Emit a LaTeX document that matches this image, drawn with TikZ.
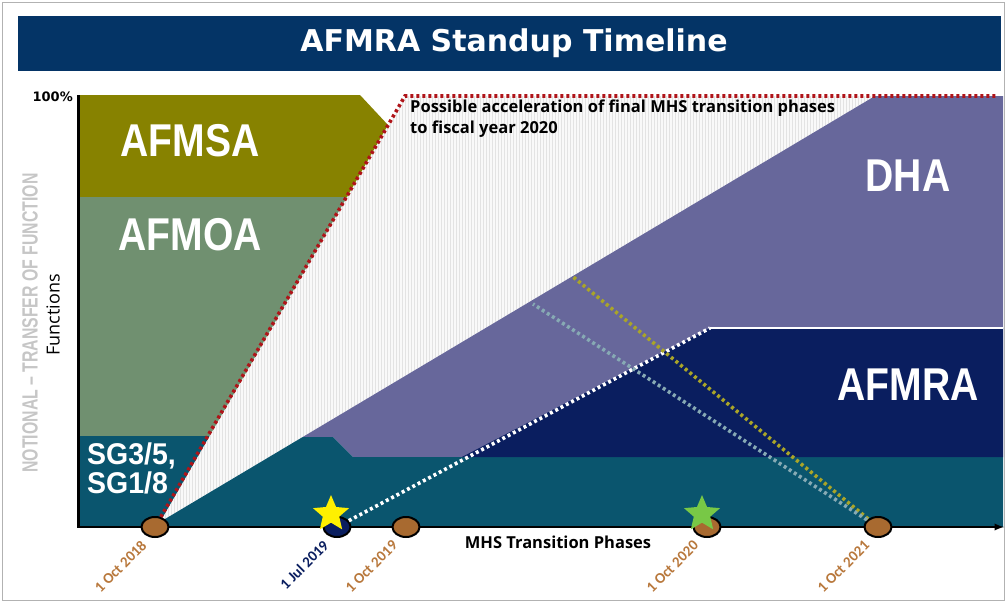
\documentclass[tikz,border=0pt]{standalone}
\usepackage{fontspec}
\setmainfont{Open Sans}
\newfontfamily\titlefont{DejaVu Sans}
\newfontfamily\namefont{Liberation Sans}
\newfontfamily\datefont{Carlito}
\usepackage{graphicx}
\usetikzlibrary{shapes,arrows,patterns}

\definecolor{titleblue}{RGB}{4,52,102}
\definecolor{afmsacol}{RGB}{135,130,0}
\definecolor{afmoacol}{RGB}{112,144,112}
\definecolor{sgcol}{RGB}{10,85,110}
\definecolor{dhacol}{RGB}{103,103,155}
\definecolor{afmracol}{RGB}{10,30,95}
\definecolor{msbrown}{RGB}{168,106,48}
\definecolor{datebrown}{RGB}{184,120,60}
\definecolor{staryellow}{RGB}{255,240,0}
\definecolor{stargreen}{RGB}{120,200,70}
\definecolor{accelred}{RGB}{175,20,25}
\definecolor{oliveline}{RGB}{170,165,40}
\definecolor{grayline}{RGB}{135,170,180}

\begin{document}
\begin{tikzpicture}[x=1pt,y=-1pt,
  bigname/.style={text=white, inner sep=0pt, font=\namefont\bfseries\fontsize{46}{46}\selectfont},
  milestone/.style={ellipse, draw=black, line width=2pt, fill=msbrown, minimum width=27pt, minimum height=20pt, inner sep=0pt},
  datelabel/.style={rotate=45, anchor=east, inner sep=0pt, text=datebrown, font=\datefont\bfseries\fontsize{15}{15}\selectfont},
  marker/.style={star, star points=5, star point ratio=2.2, minimum size=38pt, inner sep=0pt},
  phase/.style={line width=3.6pt, dash pattern=on 3pt off 3pt}]
  \useasboundingbox (0,0) rectangle (1006,602);

  % frame and title
  \draw[gray!60, line width=0.8pt] (2,2) rectangle (1004,600);
  \fill[titleblue] (18,16) rectangle (1001,71);
  \node[text=white, font=\titlefont\bfseries\fontsize{30}{30}\selectfont] (title) at (514,43) {AFMRA Standup Timeline};

  % acceleration area
  \fill[gray!5] (160,522) -- (405,96) -- (875,96) -- cycle;
  \fill[pattern=vertical lines, pattern color=gray!22] (160,522) -- (405,96) -- (875,96) -- cycle;

  % bands
  \fill[afmsacol] (78,95) -- (360,95) -- (388,125) -- (347,197) -- (78,197) -- cycle;
  \fill[afmoacol] (78,197) -- (347,197) -- (209.5,436) -- (78,436) -- cycle;
  \fill[dhacol] (302.7,437) -- (875,96) -- (1003,96) -- (1003,457) -- (353,457) -- (333,437) -- cycle;
  \fill[sgcol] (78,436) -- (209.5,436) -- (160,522) -- (302.7,437) -- (333,437) -- (353,457)
    -- (1003,457) -- (1003,527) -- (78,527) -- cycle;
  \fill[afmracol] (462,457) -- (710,328) -- (1003,328) -- (1003,457) -- cycle;
  \draw[white, line width=2pt] (710,328) -- (1003,328);

  % axes
  \draw[line width=3pt] (78,95) -- (78,528);
  \draw[line width=2.2pt, -latex] (78,527) -- (1004,527);
  \node[anchor=east, inner sep=0pt, font=\titlefont\bfseries\fontsize{13}{13}\selectfont] (full) at (73,97) {100\%};
  \node[rotate=90, text=gray!45, font=\namefont\bfseries\fontsize{22}{22}\selectfont] (notional) at (30,323) {\scalebox{0.72}[1]{NOTIONAL – TRANSFER OF FUNCTION}};
  \node[rotate=90, font=\fontsize{18}{18}\selectfont] (functions) at (53,315) {Functions};
  \node[font=\bfseries\fontsize{16.5}{16.5}\selectfont] (phases) at (558,542) {MHS Transition Phases};

  % names
  \node[bigname] (afmsa) at (190,141) {\scalebox{0.85}[1]{AFMSA}};
  \node[bigname] (afmoa) at (190,235) {\scalebox{0.85}[1]{AFMOA}};
  \node[bigname] (dha) at (908,176) {\scalebox{0.85}[1]{DHA}};
  \node[bigname] (afmra) at (908,385) {\scalebox{0.85}[1]{AFMRA}};
  \node[bigname, anchor=north west, align=left, font=\namefont\bfseries\fontsize{30}{29}\selectfont] (sg) at (87,443)
    {\scalebox{0.95}[1]{SG3/5,}\\\scalebox{0.95}[1]{SG1/8}};
  \node[anchor=north west, align=left, inner sep=0pt, font=\bfseries\fontsize{16.5}{21}\selectfont] (accelnote) at (410,100)
    {Possible acceleration of final MHS transition phases\\to fiscal year 2020};

  % milestones
  \node[milestone] (oct18) at (155,527) {};
  \node[milestone, fill=afmracol] (jul19) at (337,527) {};
  \node[milestone] (oct19) at (406,527) {};
  \node[milestone] (oct20) at (707,527) {};
  \node[milestone] (oct21) at (878,527) {};

  \coordinate (accel) at (405,96);
  \coordinate (accelend) at (998,96);
  \coordinate (afmracorner) at (710,328);
  \coordinate (dhaolive) at (572,276);
  \coordinate (dhagray) at (533,304);

  \draw[phase, accelred] (oct18) -- (accel) -- (accelend);
  \draw[phase, white] (jul19) -- (afmracorner);
  \draw[phase, oliveline] (oct21) -- (dhaolive);
  \draw[phase, grayline] (oct21) -- (dhagray);

  \node[marker, fill=staryellow] (star19) at (331,514) {};
  \node[marker, fill=stargreen] (star20) at (702,514) {};

  \node[datelabel] (d18) at ([shift={(-11pt,-5pt)}]oct18.south) {1 Oct 2018};
  \node[datelabel, text=afmracol] (d19a) at ([shift={(-11pt,-5pt)}]jul19.south) {1 Jul 2019};
  \node[datelabel] (d19b) at ([shift={(-11pt,-5pt)}]oct19.south) {1 Oct 2019};
  \node[datelabel] (d20) at ([shift={(-11pt,-5pt)}]oct20.south) {1 Oct 2020};
  \node[datelabel] (d21) at ([shift={(-11pt,-5pt)}]oct21.south) {1 Oct 2021};
\end{tikzpicture}
\end{document}
